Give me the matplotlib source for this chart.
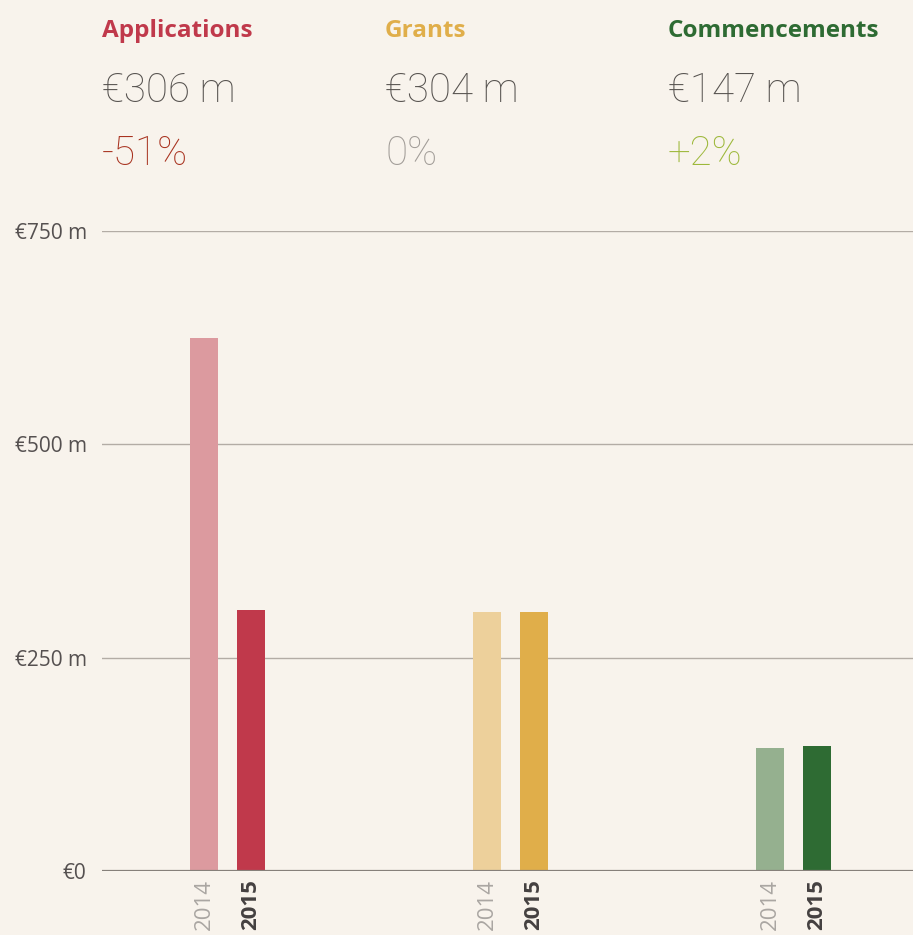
import matplotlib
matplotlib.use("Agg")
import matplotlib.pyplot as plt
import matplotlib.transforms as mtransforms

categories = ["Applications", "Grants", "Commencements"]
years = ["2014", "2015"]
values_2014 = [625, 304, 144]
values_2015 = [306, 304, 147]
headline_values = ["€306 m", "€304 m", "€147 m"]
changes = ["-51%", "0%", "+2%"]
yticks = [0, 250, 500, 750]
ytick_labels = ["€0", "€250 m", "€500 m", "€750 m"]

dark_colors = ["#C0394B", "#E0AE4A", "#2E6B33"]
light_colors = ["#DC9A9F", "#EDD09B", "#95B08F"]
change_colors = ["#A8321F", "#A19C97", "#9DB83A"]
bg = "#F8F3EC"

W, H = 913, 935
fig = plt.figure(figsize=(W / 100, H / 100), dpi=100, facecolor=bg)
ax = fig.add_axes([102 / W, 1 - 871 / H, 1 - 102 / W, (871 - 231) / H], facecolor=bg)

spacing = 283.0
xl = -125.5 / spacing
xr = (811 - 125.5) / spacing
bw = 28 / spacing
off = 23.5 / spacing

xs = list(range(len(categories)))
ax.bar([x - off for x in xs], values_2014, width=bw, color=light_colors, zorder=2)
ax.bar([x + off for x in xs], values_2015, width=bw, color=dark_colors, zorder=2)

ax.set_xlim(xl, xr)
ax.set_ylim(0, 750)
ax.set_yticks(yticks)
ax.set_yticklabels(ytick_labels, fontsize=15, color="#555050", family="Open Sans")
ax.tick_params(axis="y", length=0, pad=11)
ax.set_xticks([])
for s in ax.spines.values():
    s.set_visible(False)
for t in yticks[1:]:
    ax.axhline(t, color="#B3ACA5", lw=1.0, zorder=1)
ax.axhline(0, color="#86807A", lw=1.6, zorder=3)

trans = mtransforms.blended_transform_factory(ax.transData, fig.transFigure)
for i, cat in enumerate(categories):
    hx = i + xl
    ax.text(hx, 1 - 37 / H, cat, transform=trans, ha="left", va="baseline",
            fontsize=17.5, fontweight="bold", color=dark_colors[i], family="Open Sans")
    ax.text(hx, 1 - 102 / H, headline_values[i], transform=trans, ha="left", va="baseline",
            fontsize=29, fontweight="light", color="#56524F", family="Roboto")
    ax.text(hx, 1 - 165 / H, changes[i], transform=trans, ha="left", va="baseline",
            fontsize=29, fontweight="light", color=change_colors[i], family="Roboto")
    ax.text(i - off, 1 - 879 / H, years[0], transform=trans, ha="center", va="top",
            rotation=90, fontsize=16, color="#AAA6A2", family="Open Sans")
    ax.text(i + off, 1 - 879 / H, years[1], transform=trans, ha="center", va="top",
            rotation=90, fontsize=16, fontweight="bold", color="#444040", family="Open Sans")

fig.savefig("out.png", dpi=100, facecolor=bg)
